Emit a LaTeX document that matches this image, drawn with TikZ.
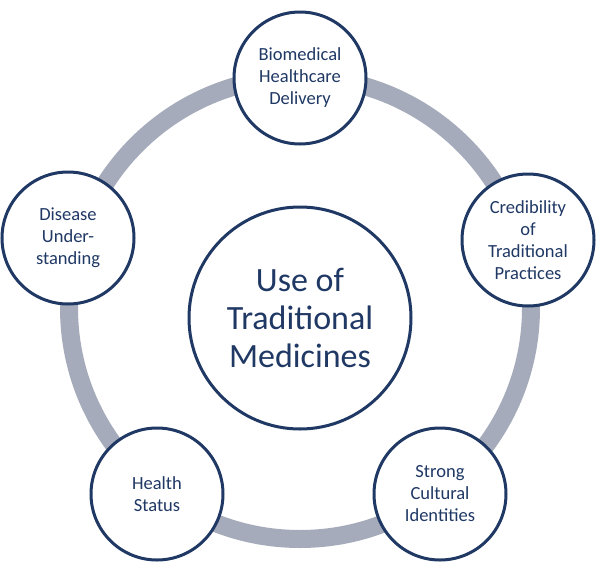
\documentclass[tikz,border=0pt]{standalone}
\usepackage{fontspec}
\setmainfont{Carlito}
\usetikzlibrary{positioning}
\definecolor{navy}{HTML}{1F3864}
\definecolor{ringgray}{HTML}{A5ABBA}
\tikzset{x=1pt,y=-1pt}

\begin{document}
\begin{tikzpicture}
% Style
[
    factor/.style={circle, draw=navy, line width=3pt, fill=white, minimum size=132pt,
        inner sep=0pt, align=center, text=navy, font=\fontsize{18.5}{22}\selectfont},
    core/.style={factor, minimum size=222pt, font=\fontsize{34}{38}\selectfont}
]
\useasboundingbox (0,0) rectangle (600,576);

% Ring
\draw[ringgray, line width=18pt] (300,308) circle [radius=231];

% Circles
\node[core] (use) at (300,318) {Use of\\Traditional\\Medicines};
\node[factor] (bio) at (300,78) {Biomedical\\Healthcare\\Delivery};
\node[factor] (cred) at (528,240) {Credibility\\of\\Traditional\\Practices};
\node[factor] (strong) at (440,494) {Strong\\Cultural\\Identities};
\node[factor] (health) at (157,494) {Health\\Status};
\node[factor] (disease) at (68,238) {Disease\\Under-\\standing};
\end{tikzpicture}
\end{document}
